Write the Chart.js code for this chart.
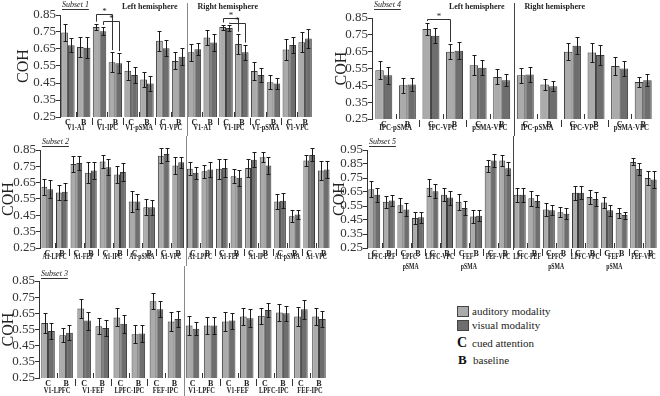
<!DOCTYPE html>
<html><head><meta charset="utf-8">
<script src="https://cdn.jsdelivr.net/npm/chart.js@4"></script>
<style>
body{margin:0;background:#fff;}
#wrap{position:relative;width:660px;height:396px;overflow:hidden;background:#fff;}
canvas{position:absolute;}
.sq{position:absolute;width:10px;height:9px;border:1px solid #444;}
.lt{position:absolute;font-family:"Liberation Serif","Times New Roman","DejaVu Serif",serif;font-size:11px;color:#222;line-height:12px;white-space:nowrap;}
.lk{position:absolute;font-family:"Liberation Serif","Times New Roman","DejaVu Serif",serif;font-weight:bold;color:#111;line-height:14px;}
</style></head><body><div id="wrap">
<canvas id="p1" width="320" height="136" style="left:0;top:0"></canvas>
<canvas id="p2" width="340" height="130" style="left:0;top:136px"></canvas>
<canvas id="p3" width="340" height="130" style="left:0;top:266px"></canvas>
<canvas id="p4" width="330" height="136" style="left:330px;top:0"></canvas>
<canvas id="p5" width="330" height="140" style="left:330px;top:136px"></canvas>
<div class="sq" style="left:457px;top:306px;background:#ababab"></div><div class="lt" style="left:472px;top:305px">auditory modality</div>
<div class="sq" style="left:457px;top:320px;background:#6e6e6e"></div><div class="lt" style="left:472px;top:319px">visual modality</div>
<div class="lk" style="left:457px;top:336px;font-size:14px">C</div><div class="lt" style="left:472px;top:337px">cued attention</div>
<div class="lk" style="left:458px;top:353px;font-size:13px">B</div><div class="lt" style="left:473px;top:354px">baseline</div>
</div>
<script>
// ---------- data ----------
const yTicksA = [0.25,0.35,0.45,0.55,0.65,0.75,0.85];
const yTicksB = [0.25,0.35,0.45,0.55,0.65,0.75,0.85,0.95];

const cats16 = ['C','B','C','B','C','B','C','B','C','B','C','B','C','B','C','B'];
const cats20 = ['C','B','C','B','C','B','C','B','C','B','C','B','C','B','C','B','C','B','C','B'];
const cats12 = ['C','B','C','B','C','B','C','B','C','B','C','B'];

// Subset 1
const groups1 = ['V1-A1','V1-IPC','V1-pSMA','V1-VPC','V1-A1','V1-IPC','V1-pSMA','V1-VPC'];
const aud1 = [0.747,0.662,0.779,0.572,0.522,0.471,0.698,0.580, 0.631,0.718,0.779,0.680,0.520,0.455,0.647,0.690];
const vis1 = [0.672,0.658,0.755,0.566,0.497,0.447,0.655,0.605, 0.649,0.688,0.773,0.631,0.497,0.447,0.674,0.712];
const audErr1 = [0.05,0.06,0.02,0.06,0.055,0.045,0.06,0.05, 0.05,0.045,0.015,0.06,0.055,0.04,0.06,0.06];
const visErr1 = [0.04,0.06,0.025,0.06,0.045,0.045,0.045,0.05, 0.035,0.05,0.02,0.045,0.04,0.035,0.045,0.055];

// Subset 2
const groups2 = ['A1-LPFC','A1-FEF','A1-IPC','A1-pSMA','A1-VPC','A1-LPFC','A1-FEF','A1-IPC','A1-pSMA','A1-VPC'];
const aud2 = [0.625,0.59,0.765,0.71,0.78,0.70,0.535,0.50,0.815,0.755, 0.735,0.72,0.735,0.69,0.74,0.805,0.535,0.445,0.785,0.725];
const vis2 = [0.61,0.595,0.77,0.725,0.745,0.715,0.535,0.50,0.825,0.775, 0.71,0.73,0.74,0.68,0.79,0.755,0.54,0.455,0.82,0.73];
const audErr2 = [0.05,0.045,0.05,0.065,0.04,0.055,0.065,0.05,0.045,0.05, 0.04,0.04,0.06,0.045,0.055,0.03,0.045,0.035,0.035,0.06];
const visErr2 = [0.055,0.05,0.045,0.05,0.05,0.055,0.045,0.045,0.04,0.035, 0.035,0.045,0.055,0.05,0.045,0.05,0.045,0.025,0.04,0.05];

// Subset 3
const groups3 = ['V1-LPFC','V1-FEF','LPFC-IPC','FEF-IPC','V1-LPFC','V1-FEF','LPFC-IPC','FEF-IPC'];
const aud3 = [0.59,0.515,0.68,0.57,0.625,0.52,0.725,0.60, 0.575,0.575,0.60,0.63,0.635,0.655,0.63,0.63];
const vis3 = [0.54,0.53,0.605,0.56,0.585,0.525,0.675,0.615, 0.555,0.575,0.605,0.62,0.67,0.65,0.675,0.615];
const audErr3 = [0.06,0.045,0.06,0.05,0.055,0.055,0.05,0.06, 0.06,0.055,0.06,0.055,0.05,0.05,0.06,0.05];
const visErr3 = [0.05,0.045,0.055,0.05,0.055,0.055,0.05,0.05, 0.04,0.05,0.05,0.055,0.045,0.045,0.06,0.05];

// Subset 4
const groups4 = ['IPC-pSMA','IPC-VPC','pSMA-VPC','IPC-pSMA','IPC-VPC','pSMA-VPC'];
const aud4 = [0.54,0.45,0.785,0.65,0.57,0.50, 0.51,0.455,0.65,0.645,0.565,0.47];
const vis4 = [0.51,0.455,0.745,0.655,0.555,0.48, 0.515,0.445,0.685,0.63,0.55,0.48];
const audErr4 = [0.055,0.045,0.035,0.045,0.06,0.045, 0.045,0.03,0.05,0.055,0.055,0.03];
const visErr4 = [0.05,0.04,0.045,0.05,0.045,0.035, 0.045,0.03,0.05,0.06,0.045,0.035];

// Subset 5
const groups5 = ['LPFC-FEF',['LPFC-','pSMA'],'LPFC-VPC',['FEF-','pSMA'],'FEF-VPC','LPFC-FEF',['LPFC-','pSMA'],'LPFC-VPC',['FEF-','pSMA'],'FEF-VPC'];
const aud5 = [0.67,0.58,0.555,0.465,0.68,0.63,0.58,0.475,0.835,0.875, 0.63,0.605,0.525,0.505,0.645,0.615,0.575,0.50,0.865,0.75];
const vis5 = [0.63,0.59,0.525,0.47,0.655,0.61,0.535,0.48,0.875,0.82, 0.63,0.585,0.52,0.495,0.645,0.60,0.52,0.485,0.815,0.74];
const audErr5 = [0.055,0.045,0.05,0.045,0.06,0.045,0.055,0.045,0.045,0.04, 0.05,0.055,0.045,0.035,0.05,0.05,0.04,0.035,0.025,0.05];
const visErr5 = [0.05,0.04,0.045,0.04,0.05,0.05,0.05,0.04,0.045,0.045, 0.05,0.045,0.035,0.04,0.045,0.05,0.04,0.025,0.04,0.06];

// significance brackets: [C index, B index, dataset, bracket level (COH)]
const sig1 = [[2,3,0,0.856],[2,3,1,0.815],[10,11,0,0.83],[10,11,1,0.80]];
const sig4 = [[2,3,0,0.845]];

// ---------- drawing ----------
const SERIF = '"Liberation Serif", "Times New Roman", "DejaVu Serif", serif';
const AUD = '#ababab', VIS = '#6e6e6e', EDGE = '#3a3a3a';

function makePanel(id, c) {
  const plugin = {
    id: 'panel_' + id,
    afterDatasetsDraw(chart) {
      const ctx = chart.ctx, ys = chart.scales.y;
      ctx.save();
      ctx.strokeStyle = '#1a1a1a'; ctx.lineWidth = 1;
      chart.data.datasets.forEach((ds, di) => {
        chart.getDatasetMeta(di).data.forEach((bar, i) => {
          const v = ds.data[i], e = ds.err[i];
          const x = Math.round(bar.x) + 0.5;
          const yt = Math.round(ys.getPixelForValue(v + e)) + 0.5;
          const yb = Math.round(ys.getPixelForValue(v - e)) + 0.5;
          ctx.beginPath();
          ctx.moveTo(x, yt); ctx.lineTo(x, yb);
          ctx.moveTo(x - 2, yt); ctx.lineTo(x + 2, yt);
          ctx.moveTo(x - 2, yb); ctx.lineTo(x + 2, yb);
          ctx.stroke();
        });
      });
      ctx.restore();
    },
    afterDraw(chart) {
      const ctx = chart.ctx, xs = chart.scales.x, ys = chart.scales.y, ca = chart.chartArea;
      const n = chart.data.labels.length, ng = c.groups.length;
      const px = i => xs.getPixelForValue(i);
      ctx.save();
      // group labels (condensed)
      ctx.fillStyle = '#222';
      ctx.font = 'bold 8px ' + SERIF;
      ctx.textAlign = 'center'; ctx.textBaseline = 'middle';
      c.groups.forEach((g, k) => {
        const x = (px(2 * k) + px(2 * k + 1)) / 2;
        const lines = Array.isArray(g) ? g : [g];
        lines.forEach((t, li) => {
          ctx.save();
          ctx.translate(x, ca.bottom + c.gy + li * 10);
          ctx.scale(c.gsx, 1);
          ctx.fillText(t, 0, 0);
          ctx.restore();
        });
      });
      // separators & small marks
      ctx.strokeStyle = '#333'; ctx.lineWidth = 1;
      ctx.beginPath();
      for (let k = 1; k < ng; k++) {
        if (k === ng / 2) continue;
        const x = Math.round((px(2 * k - 1) + px(2 * k)) / 2) + 0.5;
        ctx.moveTo(x, ca.bottom + 1); ctx.lineTo(x, ca.bottom + 8);
      }
      for (let k = 0; k < ng; k++) {
        const x = Math.round((px(2 * k) + px(2 * k + 1)) / 2) + 0.5;
        ctx.moveTo(x, ca.bottom - 5); ctx.lineTo(x, ca.bottom);
      }
      ctx.stroke();
      // hemisphere divider
      const dx = Math.round((px(n / 2 - 1) + px(n / 2)) / 2) + 0.5;
      ctx.strokeStyle = c.divColor; ctx.lineWidth = 1;
      ctx.beginPath(); ctx.moveTo(dx, c.divTop); ctx.lineTo(dx, c.divBottom); ctx.stroke();
      // headings
      if (c.headings) {
        ctx.fillStyle = '#222';
        ctx.font = 'bold 8px ' + SERIF;
        ctx.textBaseline = 'middle';
        ctx.textAlign = 'right'; ctx.fillText('Left hemisphere', dx - 10, 7);
        ctx.textAlign = 'left'; ctx.fillText('Right hemisphere', dx + 10, 7);
      }
      // subset label
      ctx.font = 'italic 8px ' + SERIF;
      ctx.textAlign = 'left'; ctx.textBaseline = 'middle'; ctx.fillStyle = '#222';
      ctx.strokeStyle = '#333';
      const sx = ca.left + 2, sy = ca.top + c.sy;
      ctx.fillText(c.subset, sx, sy);
      const w = ctx.measureText(c.subset).width;
      ctx.beginPath(); ctx.moveTo(sx, Math.round(sy + 4) + 0.5); ctx.lineTo(sx + w, Math.round(sy + 4) + 0.5); ctx.stroke();
      // significance brackets
      if (c.sig) {
        ctx.font = '9px ' + SERIF;
        ctx.textAlign = 'center'; ctx.textBaseline = 'middle'; ctx.fillStyle = '#222';
        c.sig.forEach(([a, b, d, lvl]) => {
          const ds = chart.data.datasets[d], bars = chart.getDatasetMeta(d).data;
          const xa = Math.round(bars[a].x) + 0.5, xb = Math.round(bars[b].x) + 0.5;
          const yl = Math.round(ys.getPixelForValue(lvl)) + 0.5;
          const ya = ys.getPixelForValue(ds.data[a] + ds.err[a]) - 2;
          const yb = ys.getPixelForValue(ds.data[b] + ds.err[b]) - 2;
          ctx.beginPath();
          ctx.moveTo(xa, ya); ctx.lineTo(xa, yl); ctx.lineTo(xb, yl); ctx.lineTo(xb, yb);
          ctx.stroke();
          ctx.fillText('*', (xa + xb) / 2, yl - 3);
        });
      }
      ctx.restore();
    }
  };
  return new Chart(document.getElementById(id), {
    type: 'bar',
    data: {
      labels: c.cats,
      datasets: [
        { label: 'auditory modality', data: c.aud, err: c.audErr, backgroundColor: AUD, borderColor: EDGE, borderWidth: 1, categoryPercentage: c.catPct, barPercentage: 1 },
        { label: 'visual modality', data: c.vis, err: c.visErr, backgroundColor: VIS, borderColor: EDGE, borderWidth: 1, categoryPercentage: c.catPct, barPercentage: 1 }
      ]
    },
    options: {
      responsive: false, animation: false, devicePixelRatio: 1,
      layout: { padding: c.pad },
      plugins: { legend: { display: false }, tooltip: { enabled: false } },
      scales: {
        x: {
          grid: { display: false, drawTicks: false }, border: { display: false },
          ticks: { font: { family: SERIF, weight: 'bold', size: 8 }, color: '#222', padding: 1, maxRotation: 0, autoSkip: false },
          afterFit(s) { s.height = c.xh; }
        },
        y: {
          min: c.yTicks[0], max: c.yTicks[c.yTicks.length - 1],
          afterBuildTicks(s) { s.ticks = c.yTicks.map(v => ({ value: v })); },
          ticks: { autoSkip: false, callback: v => Number(v).toFixed(2), font: { family: SERIF, size: 13 }, color: '#333', padding: 0 },
          grid: { display: true, drawOnChartArea: false, drawTicks: true, tickLength: 4, color: '#333' },
          border: { display: true, color: '#333' },
          title: { display: true, text: 'COH', font: { family: SERIF, size: 16 }, color: '#222', padding: { top: c.tp, bottom: 0 } },
          afterFit(s) { s.width = c.yw; }
        }
      }
    },
    plugins: [plugin]
  });
}

makePanel('p1', { cats: cats16, groups: groups1, aud: aud1, vis: vis1, audErr: audErr1, visErr: visErr1, yTicks: yTicksA,
  pad: { top: 15, right: 7, left: 0, bottom: 0 }, yw: 60, xh: 19, tp: 14, catPct: 0.85, gy: 11, sy: -10, gsx: 0.8,
  subset: 'Subset 1', headings: true, sig: sig1, divTop: 3, divBottom: 136, divColor: '#888' });
makePanel('p2', { cats: cats20, groups: groups2, aud: aud2, vis: vis2, audErr: audErr2, visErr: visErr2, yTicks: yTicksA,
  pad: { top: 14, right: 9, left: 0, bottom: 0 }, yw: 40, xh: 18, tp: -1, catPct: 0.8, gy: 9, sy: -8, gsx: 0.72,
  subset: 'Subset 2', headings: false, divTop: 0, divBottom: 130, divColor: '#888' });
makePanel('p3', { cats: cats16, groups: groups3, aud: aud3, vis: vis3, audErr: audErr3, visErr: visErr3, yTicks: yTicksA,
  pad: { top: 15, right: 12, left: 0, bottom: 0 }, yw: 39, xh: 18, tp: -1, catPct: 0.75, gy: 13, sy: -7, gsx: 0.8,
  subset: 'Subset 3', headings: false, divTop: 0, divBottom: 130, divColor: '#888' });
makePanel('p4', { cats: cats12, groups: groups4, aud: aud4, vis: vis4, audErr: audErr4, visErr: visErr4, yTicks: yTicksA,
  pad: { top: 18, right: 5, left: 0, bottom: 0 }, yw: 42, xh: 17, tp: 2, catPct: 0.72, gy: 9, sy: -13, gsx: 0.85,
  subset: 'Subset 4', headings: true, sig: sig4, divTop: 3, divBottom: 136, divColor: '#444' });
makePanel('p5', { cats: cats20, groups: groups5, aud: aud5, vis: vis5, audErr: audErr5, visErr: visErr5, yTicks: yTicksB,
  pad: { top: 14, right: 2, left: 0, bottom: 0 }, yw: 37, xh: 28, tp: 0, catPct: 0.82, gy: 9, sy: -8, gsx: 0.72,
  subset: 'Subset 5', headings: false, divTop: 0, divBottom: 114, divColor: '#444' });
</script>
</body></html>
